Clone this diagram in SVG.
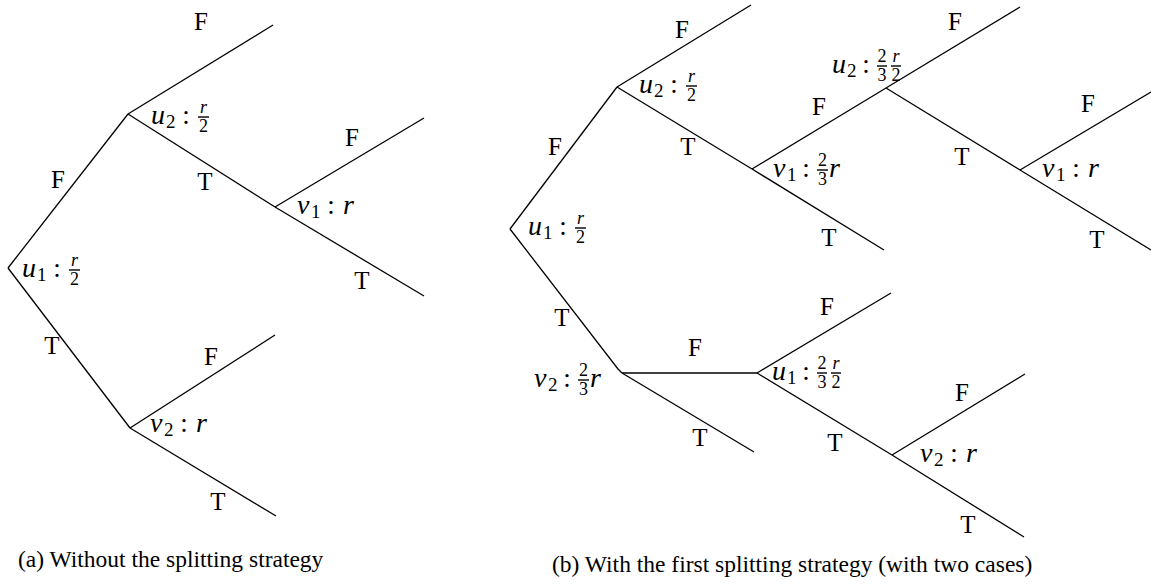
<svg xmlns="http://www.w3.org/2000/svg" width="1151" height="588" viewBox="0 0 1151 588">
<style>
text{font-family:"Liberation Serif","DejaVu Serif","Times New Roman",serif;fill:#000}
.l{font-size:25px;text-anchor:middle}
.m{font-size:28px;font-style:italic}
.s{font-size:19px}
.c{font-size:27px;text-anchor:middle}
.fi{font-size:18px;font-style:italic;text-anchor:middle}
.fn{font-size:18px;text-anchor:middle}
.cap{font-size:23.5px}
line,polyline{stroke:#000;stroke-width:1.3;fill:none}
.bar{stroke-width:1.4}
</style>
<rect width="1151" height="588" fill="#fff"/>
<g id="connectors">
<line x1="8" y1="268" x2="128" y2="114"/>
<line x1="8" y1="268" x2="130" y2="428"/>
<line x1="128" y1="114" x2="273" y2="25"/>
<line x1="128" y1="114" x2="275" y2="207"/>
<line x1="275" y1="207" x2="424" y2="118"/>
<line x1="275" y1="207" x2="424" y2="296"/>
<line x1="130" y1="428" x2="275" y2="335"/>
<line x1="130" y1="428" x2="276" y2="516"/>
<line x1="510" y1="229" x2="617" y2="87"/>
<polyline points="510,229 618,369 622,373"/>
<line x1="617" y1="87" x2="751" y2="5"/>
<line x1="617" y1="87" x2="752" y2="169"/>
<line x1="752" y1="169" x2="886" y2="88"/>
<line x1="752" y1="169" x2="884" y2="250"/>
<line x1="886" y1="88" x2="1020" y2="7"/>
<line x1="886" y1="88" x2="1020" y2="170"/>
<line x1="1020" y1="170" x2="1151" y2="92"/>
<line x1="1020" y1="170" x2="1151" y2="250"/>
<line x1="622" y1="373" x2="757" y2="373"/>
<line x1="622" y1="373" x2="754" y2="452"/>
<line x1="757" y1="373" x2="891" y2="293"/>
<line x1="757" y1="373" x2="892" y2="455"/>
<line x1="892" y1="455" x2="1025" y2="374"/>
<line x1="892" y1="455" x2="1024" y2="537"/>
</g>
<g id="edge-labels">
<text class="l" x="58" y="188">F</text>
<text class="l" x="52" y="354">T</text>
<text class="l" x="201" y="30">F</text>
<text class="l" x="205" y="190">T</text>
<text class="l" x="352" y="146">F</text>
<text class="l" x="362" y="289">T</text>
<text class="l" x="211" y="365">F</text>
<text class="l" x="218" y="510">T</text>
<text class="l" x="555" y="155">F</text>
<text class="l" x="562" y="326">T</text>
<text class="l" x="682" y="38">F</text>
<text class="l" x="688" y="155">T</text>
<text class="l" x="819" y="115">F</text>
<text class="l" x="829" y="246">T</text>
<text class="l" x="955" y="30">F</text>
<text class="l" x="962" y="165">T</text>
<text class="l" x="1088" y="112">F</text>
<text class="l" x="1097" y="248">T</text>
<text class="l" x="695" y="356">F</text>
<text class="l" x="700" y="446">T</text>
<text class="l" x="827" y="315">F</text>
<text class="l" x="835" y="451">T</text>
<text class="l" x="962" y="401">F</text>
<text class="l" x="968" y="533">T</text>
</g>
<g id="a-u1">
<text class="m" x="22" y="277">u</text><text class="s" x="37" y="281">1</text><text class="c" x="57" y="277">:</text>
<line class="bar" x1="69" y1="270" x2="80" y2="270"/><text class="fi" x="74.5" y="266">r</text><text class="fn" x="74.5" y="285">2</text>
</g>
<g id="a-u2">
<text class="m" x="151" y="124">u</text><text class="s" x="166" y="128">2</text><text class="c" x="186" y="124">:</text>
<line class="bar" x1="198" y1="117" x2="209" y2="117"/><text class="fi" x="203.5" y="113">r</text><text class="fn" x="203.5" y="132">2</text>
</g>
<g id="a-v1">
<text class="m" x="297" y="214">v</text><text class="s" x="311" y="218">1</text><text class="c" x="331" y="214">:</text><text class="m" x="343" y="214">r</text>
</g>
<g id="a-v2">
<text class="m" x="150" y="432">v</text><text class="s" x="164" y="436">2</text><text class="c" x="184" y="432">:</text><text class="m" x="196" y="432">r</text>
</g>
<g id="b-u1">
<text class="m" x="528" y="235">u</text><text class="s" x="543" y="239">1</text><text class="c" x="563" y="235">:</text>
<line class="bar" x1="575" y1="228" x2="586" y2="228"/><text class="fi" x="580.5" y="224">r</text><text class="fn" x="580.5" y="243">2</text>
</g>
<g id="b-u2">
<text class="m" x="639" y="93">u</text><text class="s" x="654" y="97">2</text><text class="c" x="674" y="93">:</text>
<line class="bar" x1="686" y1="86" x2="697" y2="86"/><text class="fi" x="691.5" y="82">r</text><text class="fn" x="691.5" y="101">2</text>
</g>
<g id="b-v1">
<text class="m" x="773" y="177">v</text><text class="s" x="787" y="181">1</text><text class="c" x="806" y="177">:</text>
<line class="bar" x1="817" y1="170" x2="828" y2="170"/><text class="fn" x="822.5" y="166">2</text><text class="fn" x="822.5" y="185">3</text><text class="m" x="829" y="177">r</text>
</g>
<g id="b-u2b">
<text class="m" x="832" y="73">u</text><text class="s" x="847" y="77">2</text><text class="c" x="866" y="73">:</text>
<line class="bar" x1="877" y1="66" x2="887" y2="66"/><text class="fn" x="882" y="62">2</text><text class="fn" x="882" y="81">3</text>
<line class="bar" x1="891" y1="66" x2="901" y2="66"/><text class="fi" x="896" y="62">r</text><text class="fn" x="896" y="81">2</text>
</g>
<g id="b-v1b">
<text class="m" x="1042" y="177">v</text><text class="s" x="1056" y="181">1</text><text class="c" x="1076" y="177">:</text><text class="m" x="1088" y="177">r</text>
</g>
<g id="b-v2">
<text class="m" x="534" y="387">v</text><text class="s" x="548" y="391">2</text><text class="c" x="567" y="387">:</text>
<line class="bar" x1="578" y1="380" x2="589" y2="380"/><text class="fn" x="583.5" y="376">2</text><text class="fn" x="583.5" y="395">3</text><text class="m" x="590" y="387">r</text>
</g>
<g id="b-u1b">
<text class="m" x="772" y="380">u</text><text class="s" x="787" y="384">1</text><text class="c" x="806" y="380">:</text>
<line class="bar" x1="817" y1="373" x2="827" y2="373"/><text class="fn" x="822" y="369">2</text><text class="fn" x="822" y="388">3</text>
<line class="bar" x1="831" y1="373" x2="841" y2="373"/><text class="fi" x="836" y="369">r</text><text class="fn" x="836" y="388">2</text>
</g>
<g id="b-v2b">
<text class="m" x="920" y="462">v</text><text class="s" x="934" y="466">2</text><text class="c" x="954" y="462">:</text><text class="m" x="966" y="462">r</text>
</g>
<g id="captions">
<text class="cap" x="18" y="567">(a) Without the splitting strategy</text>
<text class="cap" x="552" y="572">(b) With the first splitting strategy (with two cases)</text>
</g>
</svg>
